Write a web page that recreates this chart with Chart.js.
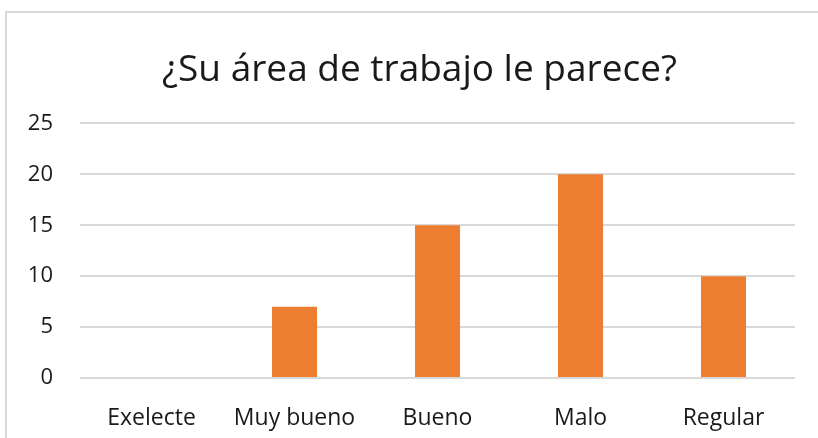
<!DOCTYPE html>
<html>
<head>
<meta charset="utf-8">
<script src="https://cdn.jsdelivr.net/npm/chart.js@4"></script>
<style>
    html, body { margin: 0; padding: 0; background: #fff; overflow: hidden; }
    #frame { position: absolute; left: 5px; top: 11px; width: 900px; height: 500px; border: 2px solid #d9d9d9; }
    #wrap { position: absolute; left: 0; top: 0; width: 818px; height: 438px; }
</style>
</head>
<body>
<div id="frame"></div>
<div id="wrap"><canvas id="chart" width="818" height="438"></canvas></div>
<script>
    const categories = ['Exelecte', 'Muy bueno', 'Bueno', 'Malo', 'Regular'];
    const values = [0, 7, 15, 20, 10];
    const titleText = '¿Su área de trabajo le parece?';

    const ctx = document.getElementById('chart').getContext('2d');

    // nudge the title box right so it sits centred like the original
    const titleShift = {
        id: 'titleShift',
        afterLayout(chart) {
            if (chart.titleBlock) {
                chart.titleBlock.left += 22;
                chart.titleBlock.right += 22;
            }
        }
    };

    new Chart(ctx, {
        type: 'bar',
        data: {
            labels: categories,
            datasets: [{
                label: 'Serie 1',
                data: values,
                backgroundColor: '#ed7d31',
                categoryPercentage: 1,
                barPercentage: 0.315
            }]
        },
        options: {
            responsive: false,
            animation: false,
            layout: {
                padding: { left: 0, right: 23, top: 0, bottom: 0 }
            },
            plugins: {
                legend: { display: false },
                tooltip: { enabled: false },
                title: {
                    display: true,
                    text: titleText,
                    color: '#1a1a1a',
                    font: { family: 'Open Sans', size: 37, weight: 'normal' },
                    padding: { top: 48, bottom: 31 }
                }
            },
            scales: {
                x: {
                    grid: { display: false },
                    border: { display: false },
                    ticks: {
                        color: '#1a1a1a',
                        font: { family: 'Open Sans', size: 23 },
                        padding: 19
                    },
                    afterFit: function(scale) { scale.height = 60; }
                },
                y: {
                    min: 0,
                    max: 25,
                    ticks: {
                        stepSize: 5,
                        color: '#1a1a1a',
                        font: { family: 'Open Sans', size: 22 },
                        padding: 27
                    },
                    grid: { color: '#d9d9d9', lineWidth: 2, drawTicks: false },
                    border: { display: false },
                    afterFit: function(scale) { scale.width = 80; }
                }
            }
        },
        plugins: [titleShift]
    });
</script>
</body>
</html>
